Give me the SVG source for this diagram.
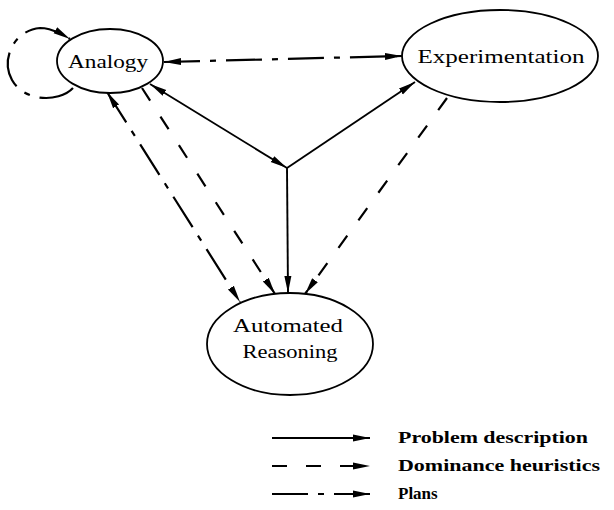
<svg xmlns="http://www.w3.org/2000/svg" width="614" height="510" viewBox="0 0 614 510">
<defs>
<marker id="ah" markerUnits="userSpaceOnUse" markerWidth="18" markerHeight="10" refX="17" refY="5" orient="auto-start-reverse" viewBox="0 0 18 10">
<path d="M0,1.5 L17,5 L0,8.5 z" fill="#000"/>
</marker>
<style>
.node ellipse{fill:#fff;stroke:#000;stroke-width:1.8}
.lbl{font-family:"Liberation Serif",serif;font-size:19px;fill:#000;text-anchor:middle}
.leg{font-family:"Liberation Serif",serif;font-size:17px;font-weight:bold;fill:#000}
.c{fill:none;stroke:#000;stroke-width:2.2}
.solid{stroke-width:1.9}
.dom{stroke-dasharray:15 19}
.plan{stroke-dasharray:36 10 6 10}
</style>
</defs>
<rect width="614" height="510" fill="#fff"/>
<g id="connectors">
<path class="c plan" d="M 73 88 C 60 102, 25 103, 12 80 C 0 58, 15 30, 40 28 C 50 28, 60 33, 70 39" stroke-dasharray="22 8 5 8" marker-end="url(#ah)"/>
<line class="c plan" x1="164" y1="62" x2="402" y2="56" marker-start="url(#ah)" marker-end="url(#ah)"/>
<line class="c solid" x1="150" y1="84" x2="287" y2="168" marker-start="url(#ah)" marker-end="url(#ah)"/>
<line class="c solid" x1="287" y1="168" x2="415" y2="82" marker-end="url(#ah)"/>
<line class="c solid" x1="287" y1="168" x2="288" y2="293" marker-end="url(#ah)"/>
<line class="c plan" x1="107" y1="92" x2="240" y2="302" marker-start="url(#ah)" marker-end="url(#ah)"/>
<line class="c dom" x1="142" y1="88" x2="275" y2="294" marker-end="url(#ah)"/>
<line class="c dom" x1="447" y1="98" x2="305" y2="294" marker-end="url(#ah)"/>
</g>
<g id="analogy" class="node">
<ellipse cx="110" cy="61" rx="53" ry="32"/>
<text class="lbl" x="108" y="68" textLength="80" lengthAdjust="spacingAndGlyphs">Analogy</text>
</g>
<g id="experimentation" class="node">
<ellipse cx="500" cy="56" rx="98" ry="46"/>
<text class="lbl" x="501" y="63" textLength="167" lengthAdjust="spacingAndGlyphs">Experimentation</text>
</g>
<g id="automated-reasoning" class="node">
<ellipse cx="290" cy="344" rx="83" ry="51"/>
<text class="lbl" x="288" y="332" textLength="110" lengthAdjust="spacingAndGlyphs">Automated</text>
<text class="lbl" x="290" y="358" textLength="95" lengthAdjust="spacingAndGlyphs">Reasoning</text>
</g>
<g id="legend">
<line class="c solid" x1="272" y1="438" x2="370" y2="438" marker-end="url(#ah)"/>
<line class="c dom" x1="272" y1="466" x2="370" y2="466" stroke-dasharray="14 26" marker-end="url(#ah)"/>
<line class="c plan" x1="272" y1="494" x2="370" y2="494" stroke-dasharray="36 12 7 12" marker-end="url(#ah)"/>
<text class="leg" x="398" y="443" textLength="190" lengthAdjust="spacingAndGlyphs">Problem description</text>
<text class="leg" x="398" y="471" textLength="202" lengthAdjust="spacingAndGlyphs">Dominance heuristics</text>
<text class="leg" x="398" y="499">Plans</text>
</g>
</svg>
